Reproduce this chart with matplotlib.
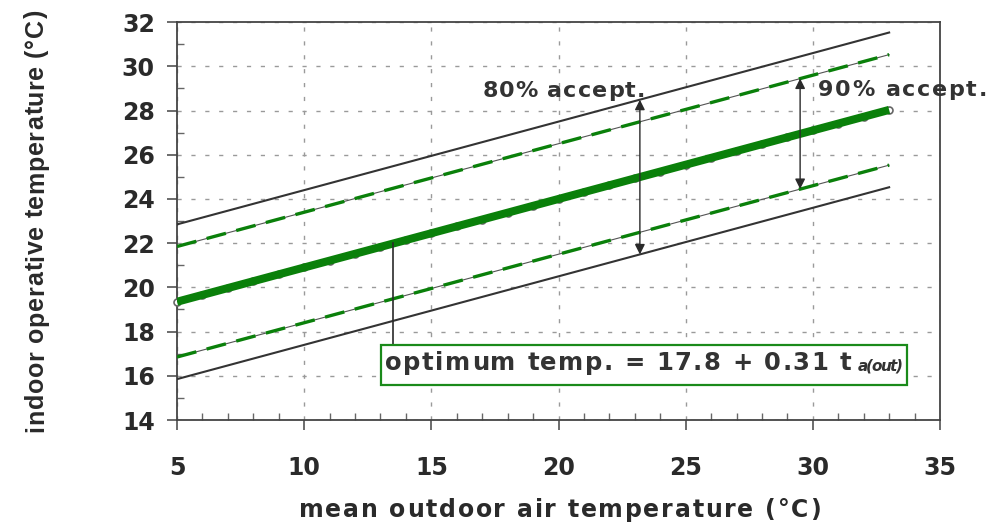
import matplotlib
matplotlib.use('Agg')
from matplotlib import pyplot as plt
from matplotlib.ticker import MultipleLocator
from matplotlib.patches import Rectangle
from matplotlib.font_manager import FontProperties, findfont
from matplotlib.ft2font import FT2Font
from matplotlib.transforms import offset_copy

DPI = 100

# optimum comfort temperature, read at each whole degree of outdoor temp
t_out = [5, 6, 7, 8, 9, 10, 11, 12, 13, 14, 15, 16, 17, 18, 19, 20,
         21, 22, 23, 24, 25, 26, 27, 28, 29, 30, 31, 32, 33]
t_opt = [19.35, 19.66, 19.97, 20.28, 20.59, 20.90, 21.21, 21.52, 21.83,
         22.14, 22.45, 22.76, 23.07, 23.38, 23.69, 24.00, 24.31, 24.62,
         24.93, 25.24, 25.55, 25.86, 26.17, 26.48, 26.79, 27.10, 27.41,
         27.72, 28.03]

# band limits (straight lines, end points)
band_x = [5, 33]
upper80 = [22.85, 31.53]
lower80 = [15.85, 24.53]
upper90 = [21.85, 30.53]
lower90 = [16.85, 25.53]

# arrows: x position, top, bottom
arrow80 = (23.2, 28.49, 21.49)
arrow90 = (29.5, 29.45, 24.45)
pointer = (13.5, 17.38, 21.99)

green = '#0a800a'
dark = '#2a2a2a'


def advances(s, fp):
    font = FT2Font(findfont(fp))
    font.set_size(fp.get_size_in_points(), DPI)
    return [font.load_char(ord(c)).linearHoriAdvance / 65536 for c in s]


def spaced(fig, xy, trans, s, size, width, ha='left', rotation=0,
           family='DejaVu Sans', style='normal', color='#333333', zorder=10):
    # letter-spaced text, one glyph per Text so the tracking can be set
    fp = FontProperties(family=family, weight='bold', style=style, size=size)
    adv = advances(s, fp)
    track = (width - sum(adv)) / (len(s) - 1)
    total = sum(adv) + track * (len(s) - 1)
    pos = {'left': 0, 'center': -total / 2, 'right': -total}[ha]
    for c, a in zip(s, adv):
        if rotation == 90:
            tr = offset_copy(trans, fig=fig, x=0, y=pos, units='dots')
        else:
            tr = offset_copy(trans, fig=fig, x=pos, y=0, units='dots')
        fig.text(xy[0], xy[1], c, transform=tr, fontproperties=fp,
                 color=color, ha='left', va='baseline', rotation=rotation,
                 rotation_mode='anchor', zorder=zorder)
        pos += a + track


fig = plt.figure(figsize=(10, 5.27), dpi=DPI)
ax = fig.add_axes([0.177, 0.203, 0.763, 0.755])

ax.set_xlim(5, 35)
ax.set_ylim(14, 32)
ax.xaxis.set_major_locator(MultipleLocator(5))
ax.xaxis.set_minor_locator(MultipleLocator(1))
ax.yaxis.set_major_locator(MultipleLocator(2))
ax.yaxis.set_minor_locator(MultipleLocator(1))

ax.grid(True, which='major', color='#9a9a9a', lw=1.0, linestyle=(0, (3, 7)))
ax.set_axisbelow(True)

for s in ax.spines.values():
    s.set_color('#444444')
    s.set_linewidth(1.3)

ax.tick_params(axis='both', which='major', direction='out', length=7,
               width=1.1, color='#444444', labelsize=17, labelcolor=dark,
               labelfontfamily='DejaVu Sans')
ax.tick_params(axis='x', which='major', pad=19)
ax.tick_params(axis='y', which='major', pad=9)
ax.tick_params(axis='both', which='minor', direction='in', length=5,
               width=1, color='#666666')
for lab in ax.get_xticklabels() + ax.get_yticklabels():
    lab.set_fontweight('bold')

# 80% band: thin dark solid lines
ax.plot(band_x, upper80, color='#333333', lw=1.5, zorder=3)
ax.plot(band_x, lower80, color='#333333', lw=1.5, zorder=3)

# 90% band: green dashed over a thin dark line
for yy in (upper90, lower90):
    ax.plot(band_x, yy, color='#555555', lw=0.8, zorder=3)
    ax.plot(band_x, yy, color=green, lw=2.4, dashes=(6, 3.2), zorder=4)

# optimum line with small open markers underneath
ax.plot(t_out, t_opt, linestyle='none', marker='o', ms=5, mfc='white',
        mec='#666666', mew=1.2, zorder=4, clip_on=False)
ax.plot(t_out, t_opt, color=green, lw=5.8, solid_capstyle='butt', zorder=5)

# arrows
for xa, top, bot in (arrow80, arrow90):
    ax.annotate('', xy=(xa, top), xytext=(xa, bot),
                arrowprops=dict(arrowstyle='<|-|>', color=dark, lw=1,
                                mutation_scale=15, shrinkA=0, shrinkB=0),
                zorder=6)

ax.plot([pointer[0], pointer[0]], [pointer[1], pointer[2]],
        color=dark, lw=1.2, zorder=6)

# equation box
ax.add_patch(Rectangle((13.02, 15.57), 20.68, 1.81, fc='white',
                       ec='#1a8a1a', lw=1.6, zorder=7))
spaced(fig, (13.18, 16.28), ax.transData,
       'optimum temp. = 17.8 + 0.31 t', 17.5, 466)
spaced(fig, (31.75, 16.22), ax.transData, 'a(out)', 11, 45,
       style='italic')

spaced(fig, (17.0, 28.62), ax.transData, '80% accept.', 16, 163)
spaced(fig, (30.2, 28.68), ax.transData, '90% accept.', 16, 169)

spaced(fig, (0.56, 0.019), fig.transFigure,
       'mean outdoor air temperature (°C)', 17, 522, ha='center',
       color=dark)
spaced(fig, (0.043, 0.581), fig.transFigure,
       'indoor operative temperature (°C)', 18, 422, ha='center',
       rotation=90, family='Liberation Sans', color=dark)

fig.savefig('out.png', dpi=DPI)
